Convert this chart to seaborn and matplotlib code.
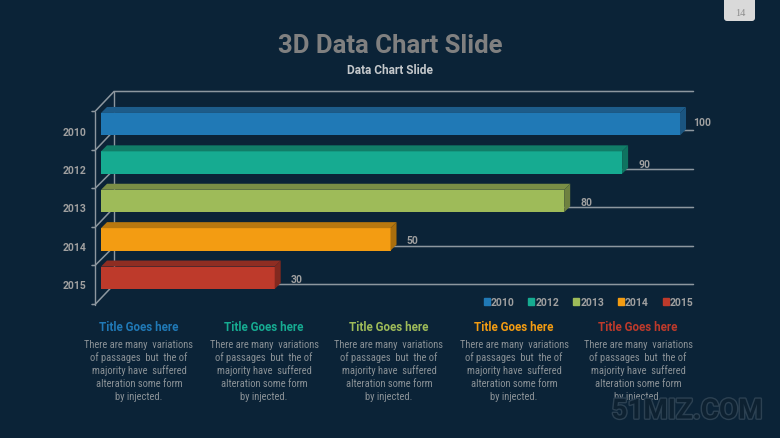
import pandas as pd
import matplotlib as mpl
import matplotlib.pyplot as plt
import matplotlib.font_manager as fm
import matplotlib.patheffects as pe
from matplotlib.patches import FancyBboxPatch, Patch, Polygon
from matplotlib.transforms import ScaledTranslation
import seaborn as sns

# chart data
years = ["2010", "2012", "2013", "2014", "2015"]
values = [100, 90, 80, 50, 30]
front_colors = ["#2079B6", "#16AB91", "#9EBB59", "#F39C12", "#BE3A2B"]
top_colors = ["#1D5C8A", "#117D68", "#7A8E46", "#B8780F", "#8F2D22"]
side_colors = ["#1B5580", "#0F7360", "#6E8140", "#A96E0D", "#82291F"]

# text blocks below the chart
card_title = "Title Goes here"
card_lines = ["There are many  variations", "of passages  but  the of", "majority have  suffered",
              "alteration some form", "by injected."]
card_x = [139, 264, 389, 514, 638]
line_y = [345, 358, 371, 384, 397]

BG = "#0B2337"
LINE = "#8D979F"
LABEL = "#A0A0A0"
BODY = "#8A9196"

sns.set_theme(style="white")
plt.rcParams["font.family"] = ["Roboto", "DejaVu Sans"]
installed = {f.name for f in fm.fontManager.ttflist}
narrow = "Roboto"
body_size = 6.8
for name, size in [("Roboto Condensed", 7.6), ("Liberation Sans Narrow", 7.8)]:
    if name in installed:
        narrow, body_size = name, size
        break

fig = plt.figure(figsize=(7.8, 4.39), dpi=100, facecolor=BG)

# backdrop in pixel coordinates for the 3D frame and slide texts
bg = fig.add_axes([0, 0, 1, 1], zorder=0)
bg.set_xlim(0, 780)
bg.set_ylim(439, 0)
bg.axis("off")

# front axis, back wall and the floors between them
ticks_front = [112.5, 151.5, 189.5, 228.5, 266.5, 305.5]
ticks_back = [92.5, 131.5, 170.5, 208.5, 247.5, 285.5]
bg.plot([95, 95], [112.5, 305.5], color=LINE, lw=1)
bg.plot([114, 114], [92.5, 285.5], color=LINE, lw=1)
for yf, yb in zip(ticks_front, ticks_back):
    bg.plot([92, 95, 114, 693.5], [yf, yf, yb, yb], color=LINE, lw=1.1, solid_joinstyle="miter")

# bars on their own axes, lined up with the frame
left, right, top, bottom = 85, 700, 85, 310
ax = fig.add_axes([left / 780, 1 - bottom / 439, (right - left) / 780, (bottom - top) / 439], zorder=1)
df = pd.DataFrame({"year": years, "value": values})
sns.barplot(data=df, x="value", y="year", hue="year", palette=front_colors, saturation=1,
            width=0.586, dodge=False, legend=False, edgecolor="none", linewidth=0, ax=ax)
ax.set_xlim((left - 101) / 5.79, (right - 101) / 5.79)
ax.set_ylim((bottom - 125.2) / 38.4, (top - 125.2) / 38.4)
ax.patch.set_alpha(0)
sns.despine(ax=ax, left=True, bottom=True)
ax.set_xlabel("")
ax.set_ylabel("")
ax.set_xticks([])
ax.tick_params(axis="y", length=0, pad=-1, labelsize=7.5, labelcolor=LABEL)

offset = ScaledTranslation(0, -6.5 / 100, fig.dpi_scale_trans)
for label in ax.get_yticklabels():
    label.set_fontweight("bold")
    label.set_transform(label.get_transform() + offset)

# top and side faces from each bar's own rectangle
dx = 6 / 5.79
dy = -6 / 38.4
for bar, c_top, c_side, val in zip(ax.patches, top_colors, side_colors, values):
    x1 = bar.get_x() + bar.get_width()
    y0, y1 = sorted([bar.get_y(), bar.get_y() + bar.get_height()])
    ax.add_patch(Polygon([(0, y0), (x1, y0), (x1 + dx, y0 + dy), (dx, y0 + dy)], color=c_top, lw=0))
    ax.add_patch(Polygon([(x1, y0), (x1, y1), (x1 + dx, y1 + dy), (x1 + dx, y0 + dy)], color=c_side, lw=0))
    # the longest bar has no room so its label sits higher and closer
    shift = (13, 2) if val == max(values) else (16, -1)
    ax.annotate(str(val), (x1, (y0 + y1) / 2), xytext=(shift[0] * 0.72, shift[1] * 0.72),
                textcoords="offset points", color=LABEL, fontsize=7.5, fontweight="bold", va="center", ha="left")

handles = [Patch(color=c, label=y) for c, y in zip(front_colors, years)]
ax.legend(handles=handles, ncol=5, frameon=False, loc="center right", bbox_to_anchor=(0.9895, 0.031),
          labelcolor=LABEL, prop={"family": "Roboto", "weight": "bold", "size": 7.5},
          handlelength=0.58, handleheight=0.58, handletextpad=0.1, columnspacing=1.33,
          borderpad=0, borderaxespad=0)

# slide title and page tab
bg.text(390, 46, "3D Data Chart Slide", color="#808080", fontsize=18.5, fontweight="bold", ha="center", va="center")
bg.text(390, 70, "Data Chart Slide", color="#C4C8CB", fontsize=8.6, fontweight="bold", ha="center", va="center")
bg.add_patch(FancyBboxPatch((724, -8), 31, 30, boxstyle="round,pad=0,rounding_size=3", fc="#D9D9D9", ec="none"))
bg.text(740, 13, "14", color="#8C8C8C", fontsize=7.5, family="Liberation Serif", ha="center", va="center")

for x, color in zip(card_x, front_colors):
    bg.text(x, 328, card_title, color=color, fontsize=8.4, fontweight="bold", ha="center", va="center")
    for y, line in zip(line_y, card_lines):
        bg.text(x, y, line, color=BODY, fontsize=body_size, family=narrow, ha="center", va="center")

# watermark
mark = bg.text(687, 412, "51MIZ.COM", color="#0D2131", fontsize=20, fontweight="bold", ha="center", va="center",
               zorder=5)
mark.set_path_effects([pe.withStroke(linewidth=2, foreground="#2C4152")])

fig.savefig("out.png", dpi=100, facecolor=BG)
